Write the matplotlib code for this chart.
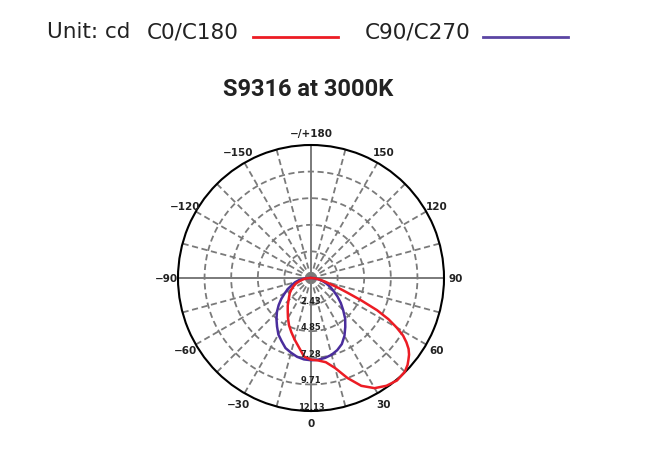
import numpy as np
import matplotlib
matplotlib.use("Agg")
import matplotlib.pyplot as plt

# ---- data ----
red_angles = [-90, -85, -80, -75, -70, -65, -60, -55, -50, -45, -40, -35, -30, -25, -20, -15, -10, -5,
              0, 5, 10, 15, 20, 25, 30, 35, 40, 45, 48, 50, 52, 54, 56, 58, 60, 62, 64, 66, 68, 70, 72,
              75, 80, 85, 90]
red_vals = [0.1, 0.45, 0.75, 1.05, 1.45, 1.75, 2.05, 2.35, 2.6, 2.9, 3.3, 3.7, 4.2, 4.75, 5.25, 5.8, 6.4, 7.2,
            7.45, 7.55, 7.8, 8.5, 9.7, 10.85, 11.6, 12.0, 12.2, 12.1, 11.85, 11.6, 11.35, 11.0, 10.5, 9.9,
            9.0, 8.0, 6.7, 5.0, 3.6, 2.7, 2.0,
            1.4, 0.8, 0.35, 0.05]

blue_angles = [-90, -85, -80, -75, -70, -65, -60, -55, -50, -45, -40, -35, -30, -25, -20, -15, -10, -5,
               0, 5, 10, 15, 20, 25, 30, 35, 40, 45, 50, 55, 60, 65, 70, 75, 80, 85, 90]
blue_vals = [0.1, 0.6, 1.1, 1.5, 1.85, 2.3, 2.75, 3.3, 3.85, 4.4, 4.9, 5.4, 5.95, 6.35, 6.8, 7.05, 7.3, 7.45,
             7.5, 7.48, 7.4, 7.25, 7.0, 6.65, 6.1, 5.45, 4.85, 4.15, 3.55, 2.95, 2.4, 1.95, 1.5, 1.1, 0.7,
             0.35, 0.1]

ring_values = [2.43, 4.85, 7.28, 9.71, 12.13]
ring_labels = ["2.43", "4.85", "7.28", "9.71", "12.13"]
theta_ticks = [0, 30, 60, 90, 120, 150, 180, -150, -120, -90, -60, -30]
theta_labels = ["0", "30", "60", "90", "120", "150", "\u2212/+180", "\u2212150", "\u2212120", "\u221290",
                "\u221260", "\u221230"]

title = "S9316 at 3000K"
unit_text = "Unit: cd"
red_name = "C0/C180"
blue_name = "C90/C270"

RED = "#ec1c24"
BLUE = "#4a2d9c"
GRID = "#7a7a7a"

W, H = 668, 460
fig = plt.figure(figsize=(W / 100, H / 100), dpi=100)
fig.patch.set_facecolor("white")

# polar axes: center (311, 279) px, radius 133 px
cx, cy, R = 311, 279, 133
ax = fig.add_axes([(cx - R) / W, (H - cy - R) / H, 2 * R / W, 2 * R / H], projection="polar")
ax.set_theta_zero_location("S")
ax.set_theta_direction(1)
rmax = ring_values[-1]
ax.set_ylim(0, rmax)
ax.set_xticks([])
ax.set_yticks([])
ax.grid(False)
ax.spines["polar"].set_color("black")
ax.spines["polar"].set_linewidth(1.5)

dash = (0, (3.4, 2.0))
# rings
tt = np.linspace(0, 2 * np.pi, 361)
for v in ring_values[:-1]:
    ax.plot(tt, np.full_like(tt, v), color=GRID, lw=1.3, ls=dash, zorder=1)
# radial lines every 15 degrees
for a in range(0, 360, 15):
    if a % 90 == 0:
        ax.plot([np.deg2rad(a)] * 2, [0, rmax], color=GRID, lw=1.4, ls="-", zorder=1)
    else:
        ax.plot([np.deg2rad(a)] * 2, [0, rmax], color=GRID, lw=1.3, ls=dash, zorder=1)

# curves
ax.plot(np.deg2rad(blue_angles), blue_vals, color=BLUE, lw=1.8, zorder=3, clip_on=False)
ax.plot(np.deg2rad(red_angles), red_vals, color=RED, lw=1.8, zorder=4, clip_on=False)

# theta labels
rl = rmax * 145 / 133
for a, lab in zip(theta_ticks, theta_labels):
    ax.text(np.deg2rad(a), rl, lab, ha="center", va="center", fontsize=7.5, fontweight="bold",
            color="#222222", clip_on=False, family="DejaVu Sans")

# ring labels
for v, lab in zip(ring_values, ring_labels):
    ax.text(0, v - 0.42, lab, ha="center", va="center", fontsize=6, fontweight="bold",
            color="#222222", zorder=5, family="DejaVu Sans")

# title
fig.text(308 / W, 1 - 96 / H, title, ha="center", va="baseline", fontsize=17,
         fontweight="bold", family="Roboto", color="#222222")

# legend header
ybase = 1 - 38.5 / H
fig.text(47 / W, ybase, unit_text, ha="left", va="baseline", fontsize=15.5, color="#222222")
fig.text(147 / W, ybase, red_name, ha="left", va="baseline", fontsize=15.5, color="#222222")
fig.text(365 / W, ybase, blue_name, ha="left", va="baseline", fontsize=15.5, color="#222222")
yl = 1 - 37.5 / H
fig.add_artist(plt.Line2D([253 / W, 338 / W], [yl, yl], color=RED, lw=2.0))
fig.add_artist(plt.Line2D([483 / W, 568 / W], [yl, yl], color="#5b45a3", lw=2.0))

fig.savefig("out.png", dpi=100, facecolor="white")
